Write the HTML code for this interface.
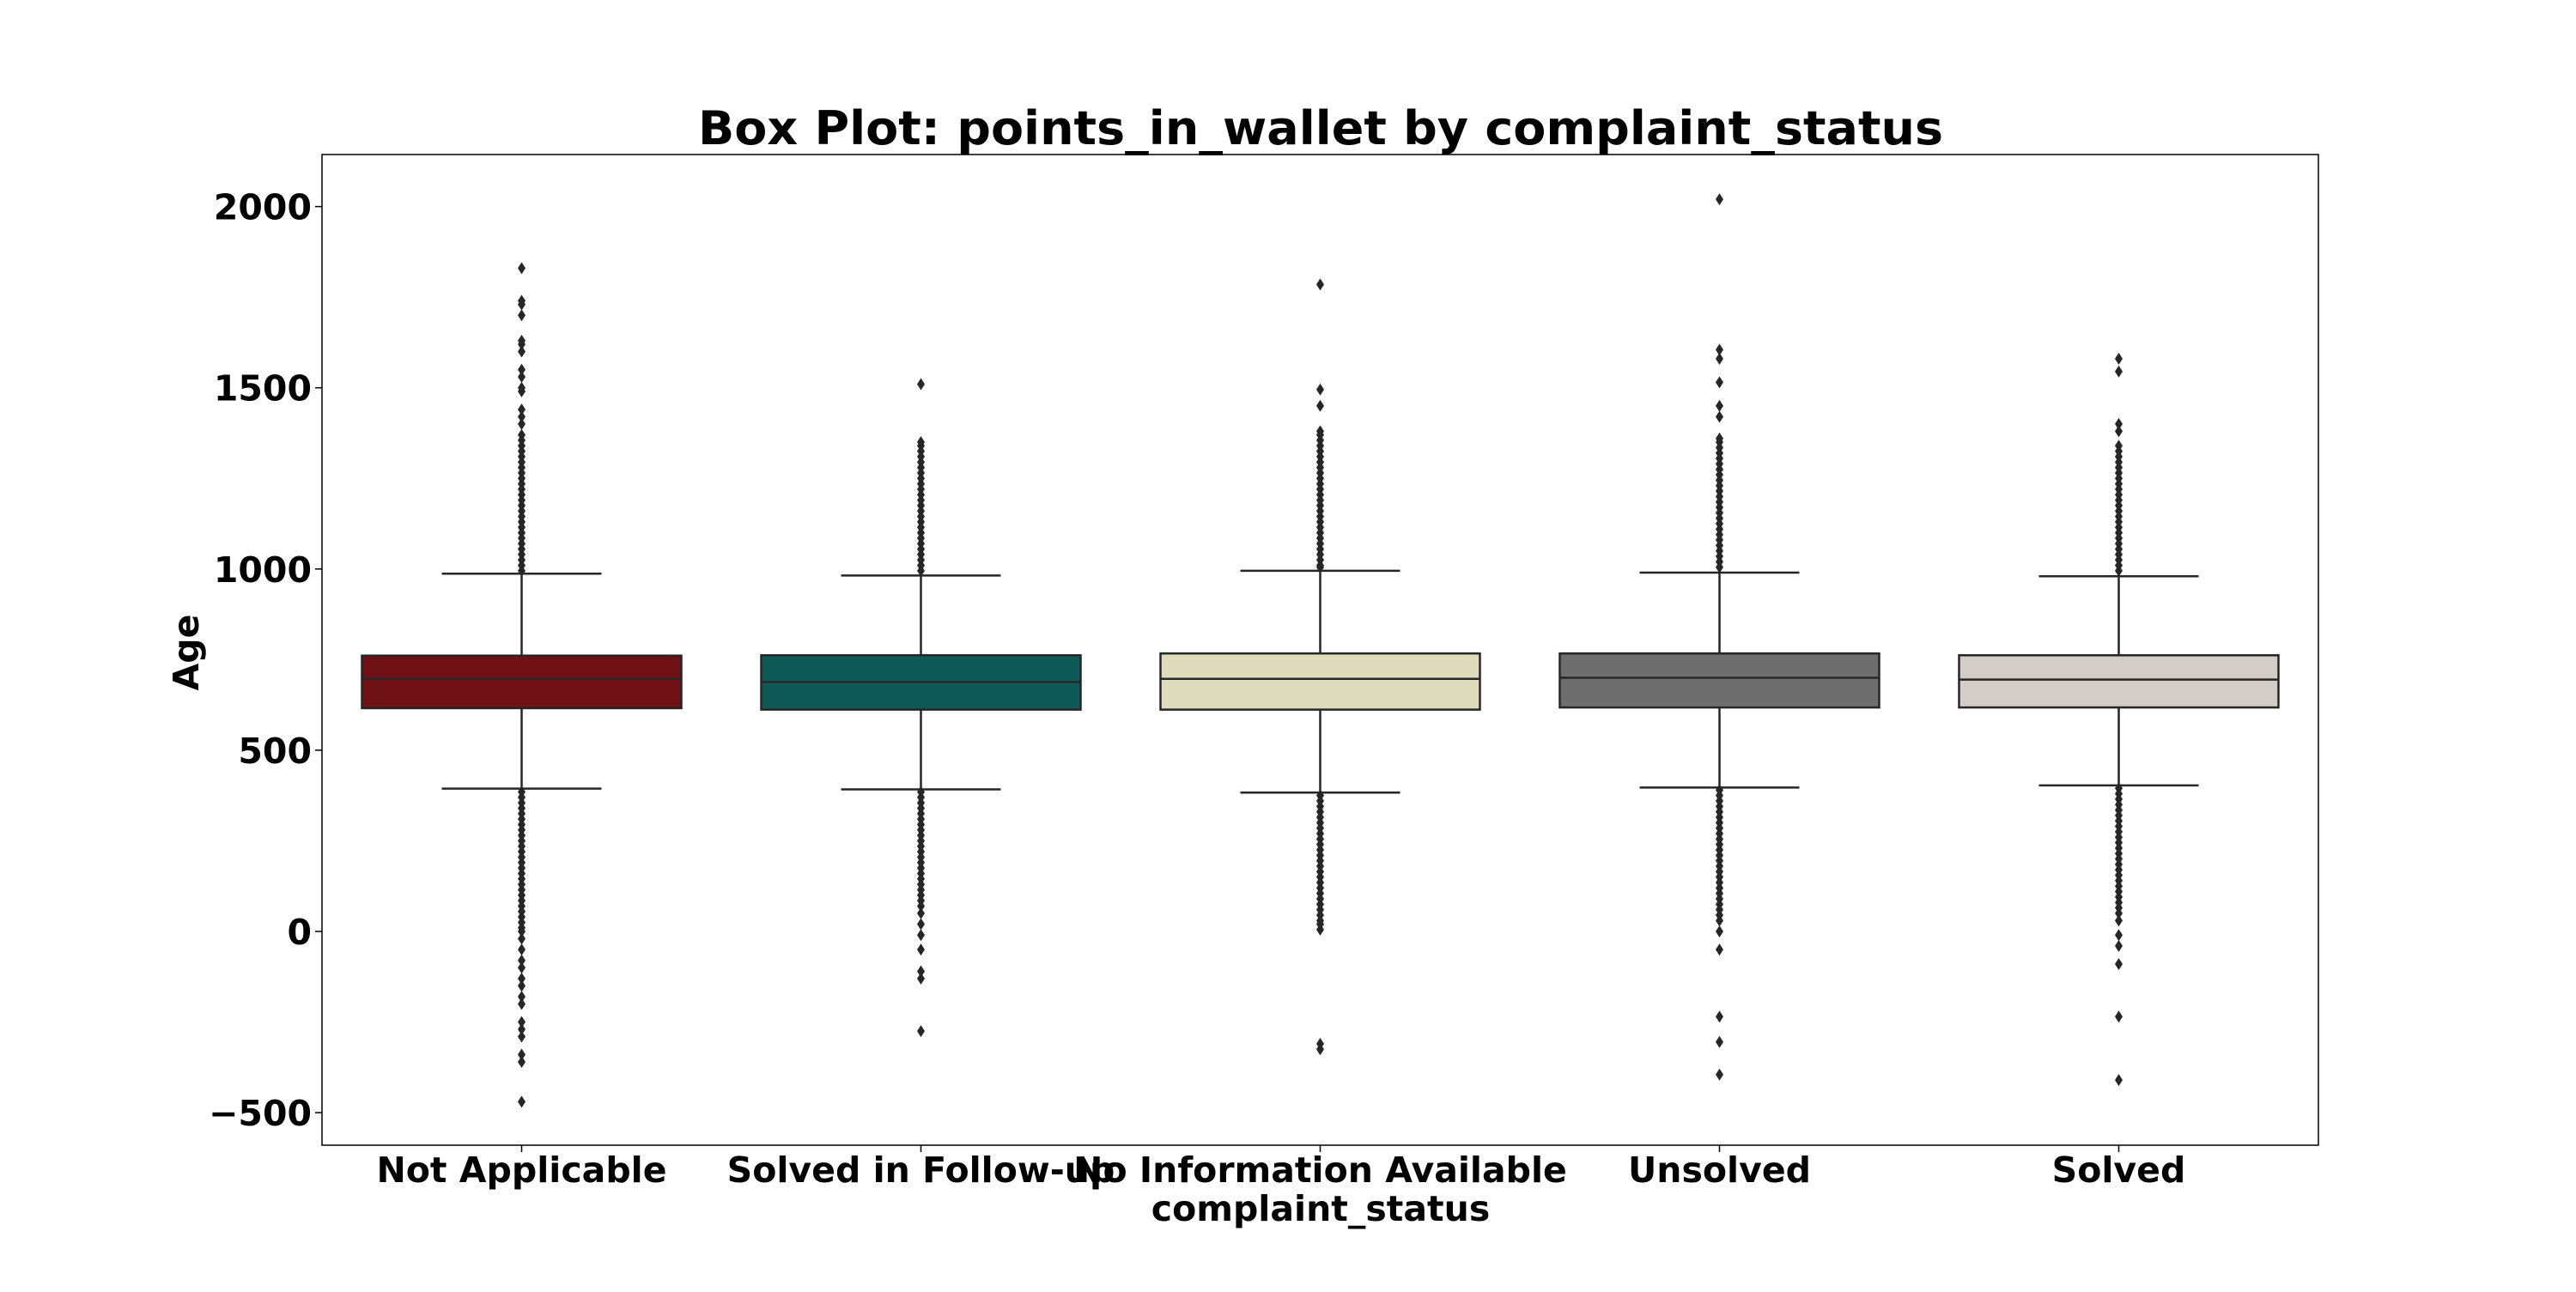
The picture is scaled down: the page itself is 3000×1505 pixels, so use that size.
<!DOCTYPE html>
<html><head><meta charset="utf-8"><style>
html,body{margin:0;padding:0;background:#fff}
svg text{font-family:"DejaVu Sans","Liberation Sans",sans-serif;font-weight:bold;fill:#000}
</style></head><body>
<svg id="chart" width="3000" height="1500" xmlns="http://www.w3.org/2000/svg"></svg>
<script>
const categories=["Not Applicable","Solved in Follow-up","No Information Available","Unsolved","Solved"];
const colors=["#6e1014","#0f5957","#dedcbd","#6e6e6e","#d3cdc8"];
const q1=[616,612,612,618,618];
const medians=[697,688,697,700,695];
const q3=[761,762,767,767,762];
const whiskerLow=[394,392,383,397,403];
const whiskerHigh=[987,982,995,990,980];
const yTicks=[-500,0,500,1000,1500,2000];
const yTickLabels=["\u2212500","0","500","1000","1500","2000"];
const outliers0=[1830,1740,1730,1700,1630,1620,1600,1550,1530,1500,1490,1440,1420,1400,1370,1355,1340,1325,1310,1295,1280,1265,1250,1235,1220,1205,1190,1175,1160,1145,1130,1115,1100,1085,1070,1055,1040,1025,1010,995,385,370,355,340,325,310,295,280,265,250,235,220,205,190,175,160,145,130,115,100,85,70,55,40,25,10,0,-20,-50,-80,-100,-130,-150,-180,-200,-250,-270,-290,-340,-360,-470];
const outliers1=[1510,1350,1340,1325,1310,1295,1280,1265,1250,1235,1220,1205,1190,1175,1160,1145,1130,1115,1100,1085,1070,1055,1040,1025,1010,995,385,370,355,340,325,310,295,280,265,250,235,220,205,190,175,160,145,130,115,100,85,70,50,20,-10,-50,-110,-130,-275];
const outliers2=[1785,1495,1450,1380,1370,1355,1340,1325,1310,1295,1280,1265,1250,1235,1220,1205,1190,1175,1160,1145,1130,1115,1100,1085,1070,1055,1040,1025,1010,1005,375,360,345,330,315,300,285,270,255,240,225,210,195,180,165,150,135,120,105,90,75,60,45,30,20,5,-310,-325];
const outliers3=[2020,1605,1580,1515,1450,1420,1360,1350,1335,1320,1305,1290,1275,1260,1245,1230,1215,1200,1185,1170,1155,1140,1125,1110,1095,1080,1065,1050,1035,1020,1005,390,375,360,345,330,315,300,285,270,255,240,225,210,195,180,165,150,135,120,105,90,75,60,45,30,0,-50,-235,-305,-395];
const outliers4=[1580,1545,1400,1380,1340,1325,1310,1295,1280,1265,1250,1235,1220,1205,1190,1175,1160,1145,1130,1115,1100,1085,1070,1055,1040,1025,1010,995,395,380,365,350,335,320,305,290,275,260,245,230,215,200,185,170,155,140,125,110,95,80,65,50,30,-10,-40,-90,-235,-410];
const outliers=[outliers0,outliers1,outliers2,outliers3,outliers4];

const svg=document.getElementById('chart');
const NS='http://www.w3.org/2000/svg';
const L=375,R=2700,T=180,B=1334;
const yScale=v=>1085-v*0.4222;
const band=(R-L)/categories.length;
const xCenter=i=>L+band*(i+0.5);
function mk(tag,attrs,parent){const e=document.createElementNS(NS,tag);for(const k in attrs)e.setAttribute(k,attrs[k]);(parent||svg).appendChild(e);return e;}

const title=mk('text',{x:1538,y:168,'text-anchor':'middle','font-size':54,textLength:1450,lengthAdjust:'spacingAndGlyphs'});
title.textContent='Box Plot: points_in_wallet by complaint_status';



const W=band*0.8;
categories.forEach((c,i)=>{
  const g=mk('g',{});
  
  
  const cx=xCenter(i);
  mk('line',{x1:cx,x2:cx,y1:yScale(q3[i]),y2:yScale(whiskerHigh[i]),stroke:'#262626','stroke-width':2.5},g);
  mk('line',{x1:cx,x2:cx,y1:yScale(q1[i]),y2:yScale(whiskerLow[i]),stroke:'#262626','stroke-width':2.5},g);
  mk('line',{x1:cx-W/4,x2:cx+W/4,y1:yScale(whiskerHigh[i]),y2:yScale(whiskerHigh[i]),stroke:'#262626','stroke-width':2.5},g);
  mk('line',{x1:cx-W/4,x2:cx+W/4,y1:yScale(whiskerLow[i]),y2:yScale(whiskerLow[i]),stroke:'#262626','stroke-width':2.5},g);
  mk('rect',{x:cx-W/2,y:yScale(q3[i]),width:W,height:yScale(q1[i])-yScale(q3[i]),fill:colors[i],stroke:'#262626','stroke-width':2.5},g);
  mk('line',{x1:cx-W/2,x2:cx+W/2,y1:yScale(medians[i]),y2:yScale(medians[i]),stroke:'#262626','stroke-width':2.5},g);
  outliers[i].forEach(v=>{
    const y=yScale(v);
    const p=mk('polygon',{points:`${cx},${y-7} ${cx+4.5},${y} ${cx},${y+7} ${cx-4.5},${y}`,fill:'#262626'},g);
    
    
  });
  mk('line',{x1:cx,x2:cx,y1:B,y2:B+8,stroke:'#000','stroke-width':1.5});
  const t=mk('text',{x:cx,y:1377,'text-anchor':'middle','font-size':41});
  t.textContent=c;
  
  
});

const frame=mk('rect',{x:L,y:T,width:R-L,height:B-T,fill:'none',stroke:'#000','stroke-width':1.5});



yTicks.forEach((v,i)=>{
  const y=yScale(v);
  mk('line',{x1:L-8,x2:L,y1:y,y2:y,stroke:'#000','stroke-width':1.5});
  const t=mk('text',{x:363,y:y+15,'text-anchor':'end','font-size':41});
  t.textContent=yTickLabels[i];
  
  
});

const xl=mk('text',{x:1538,y:1422,'text-anchor':'middle','font-size':41});
xl.textContent='complaint_status';


const yl=mk('text',{x:0,y:0,'text-anchor':'middle','font-size':41,transform:'translate(231,760) rotate(-90)'});
yl.textContent='Age';


</script>
</body></html>
